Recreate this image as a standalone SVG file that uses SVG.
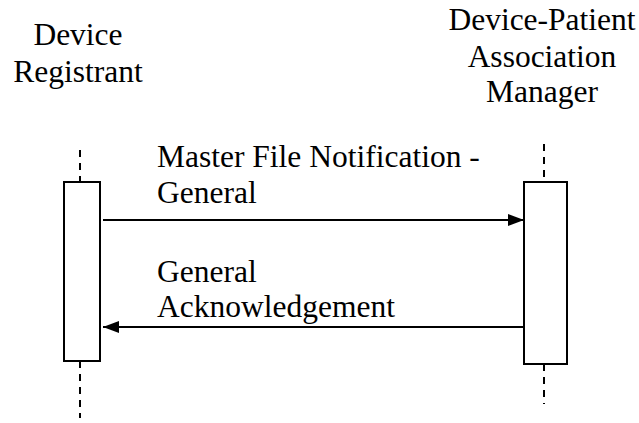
<svg xmlns="http://www.w3.org/2000/svg" width="639" height="423" viewBox="0 0 639 423" font-family="'Liberation Serif', 'Times New Roman', Times, serif" font-size="31.5">
<style>
.life{stroke:#000;stroke-width:2;stroke-dasharray:7 6;fill:none}
.act{fill:#fff;stroke:#000;stroke-width:2}
.msg{stroke:#000;stroke-width:2;fill:none;marker-end:url(#ah)}
</style>
<defs>
<marker id="ah" viewBox="0 0 16 12" refX="16" refY="6" markerWidth="16" markerHeight="12" markerUnits="userSpaceOnUse" orient="auto">
<path d="M0,0 L16,6 L0,12 z" fill="#000"/>
</marker>
</defs>
<g id="registrant">
<text x="78" y="45" text-anchor="middle">Device</text>
<text x="78" y="82" text-anchor="middle">Registrant</text>
<line class="life" x1="80" y1="150" x2="80" y2="182"/>
<line class="life" x1="80" y1="361" x2="80" y2="418"/>
<rect class="act" x="64" y="182" width="36" height="179"/>
</g>
<g id="manager">
<text x="542" y="30" text-anchor="middle">Device-Patient</text>
<text x="542" y="67" text-anchor="middle">Association</text>
<text x="542" y="102" text-anchor="middle">Manager</text>
<line class="life" x1="544" y1="144" x2="544" y2="182"/>
<line class="life" x1="544" y1="364" x2="544" y2="404"/>
<rect class="act" x="524" y="182" width="43" height="182"/>
</g>
<g id="connectors">
<line class="msg" x1="103" y1="220" x2="524" y2="220"/>
<text x="157" y="167">Master File Notification -</text>
<text x="157" y="203">General</text>
<line class="msg" x1="524" y1="327" x2="103" y2="327"/>
<text x="157" y="282">General</text>
<text x="157" y="317">Acknowledgement</text>
</g>
</svg>
